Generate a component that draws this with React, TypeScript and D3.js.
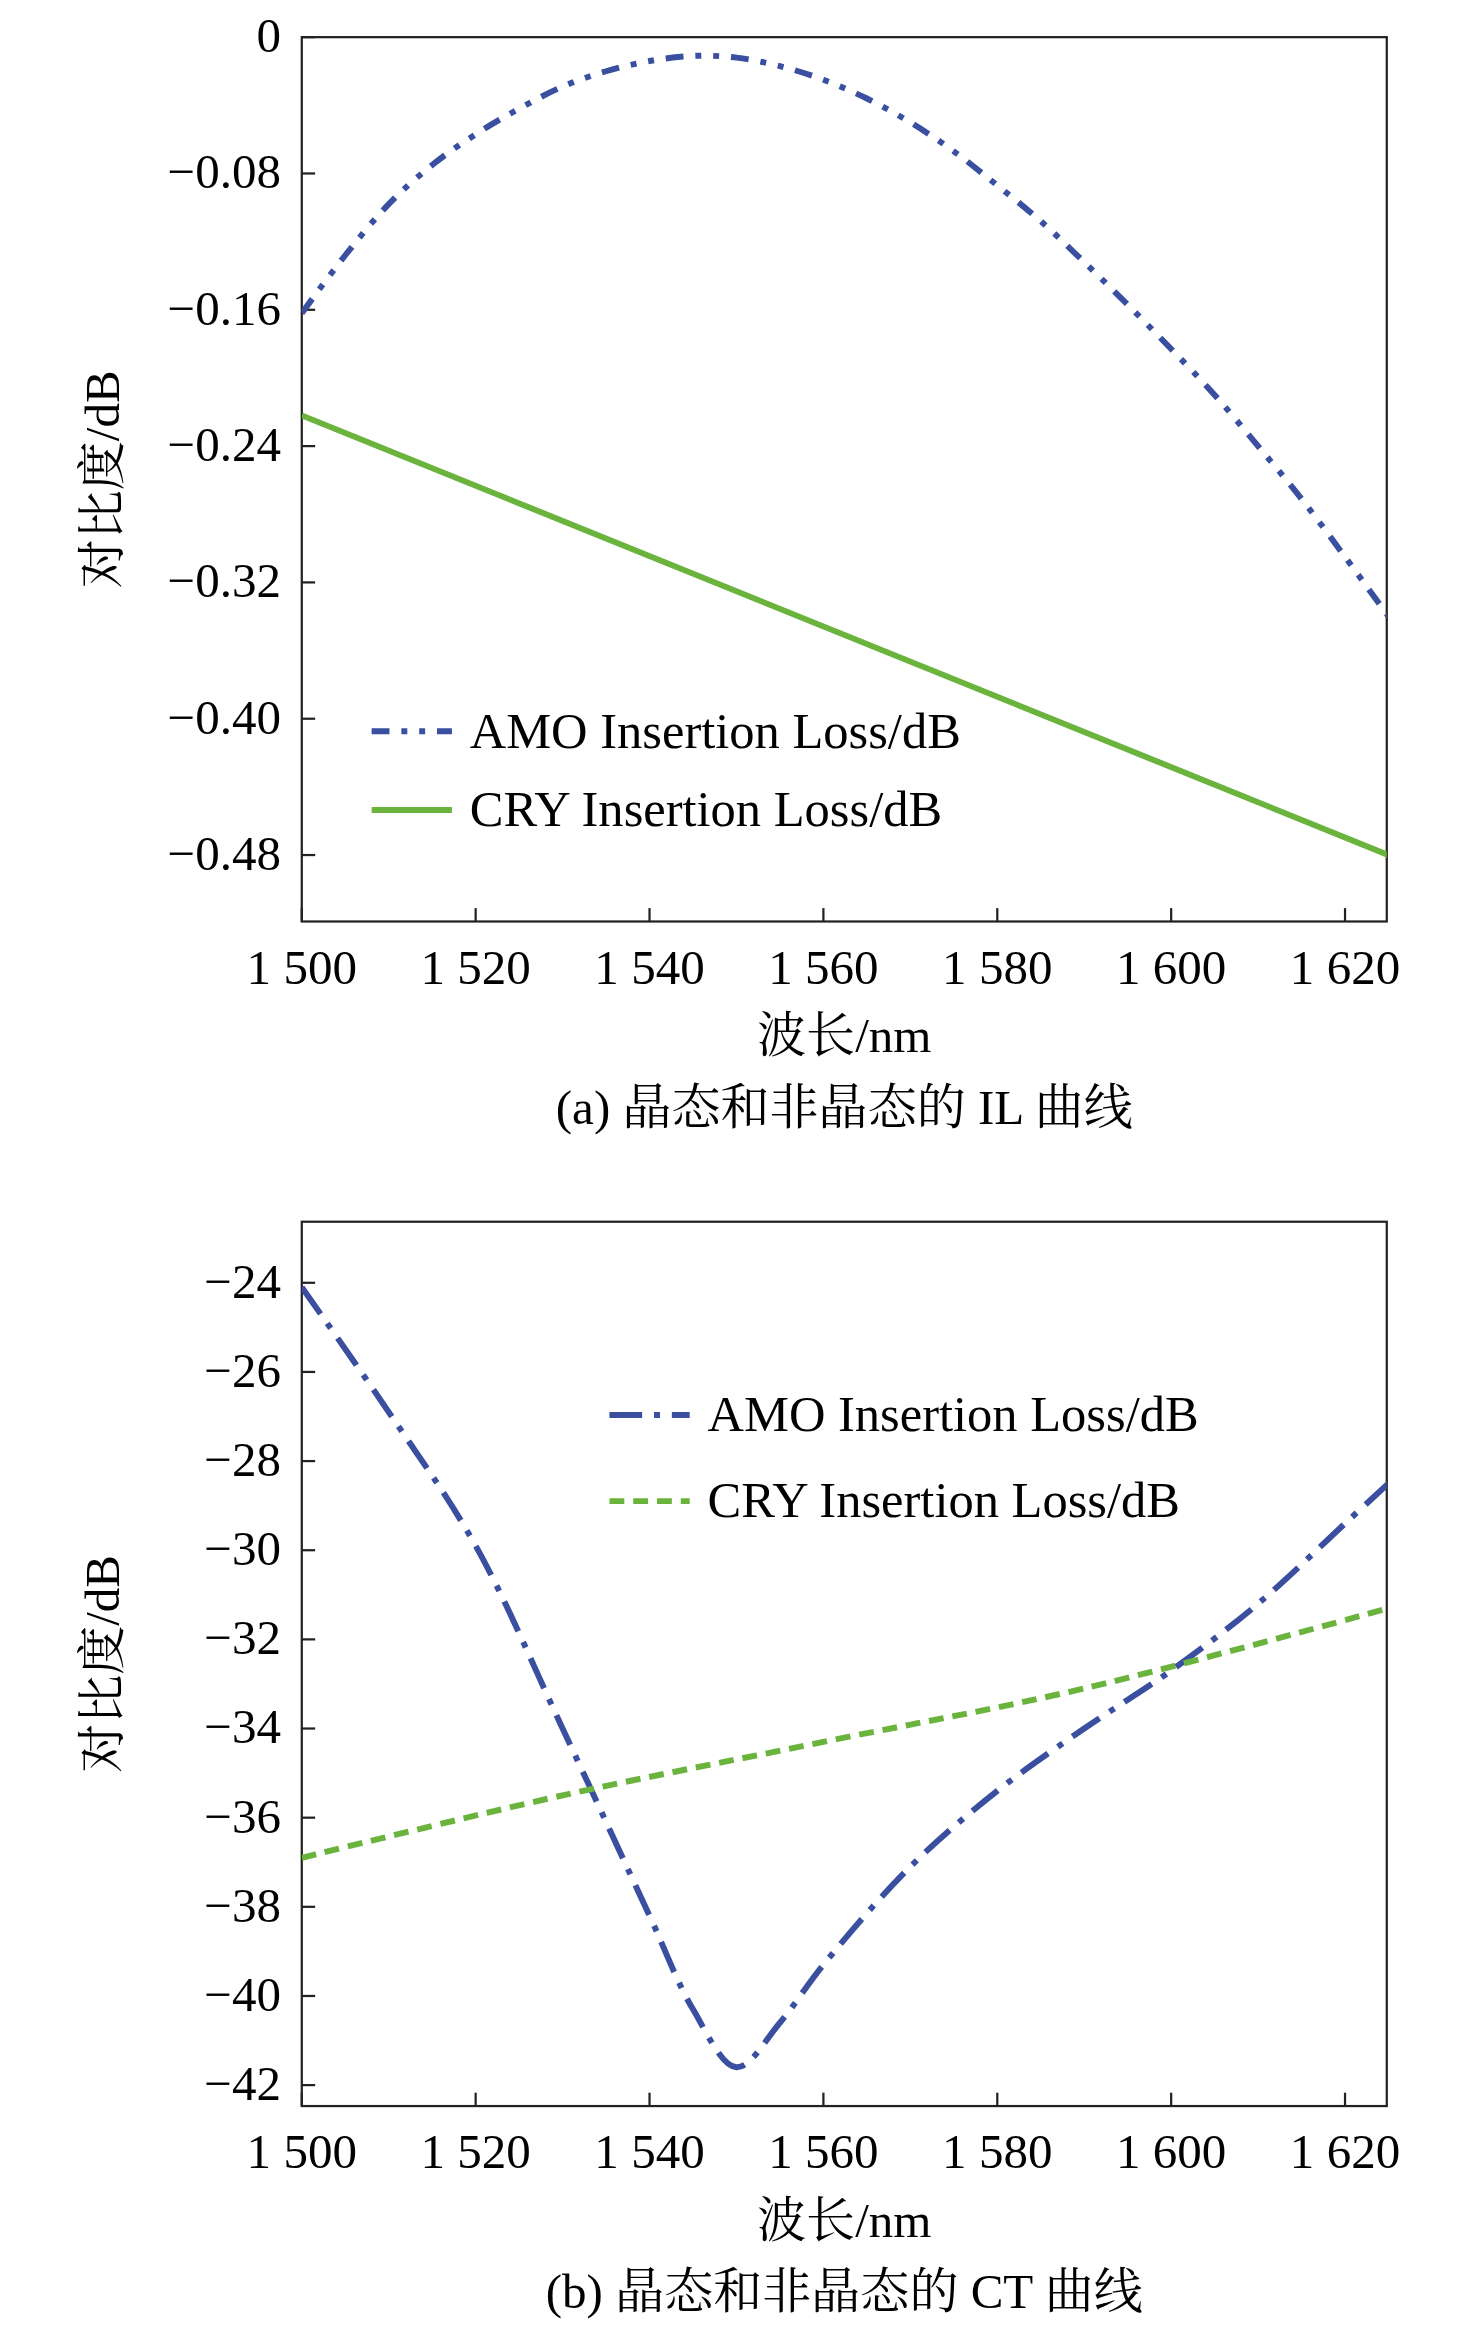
import React from 'react';
import * as d3 from 'd3';

const xTicks = [1500, 1520, 1540, 1560, 1580, 1600, 1620];
const yTicksA = [0, -0.08, -0.16, -0.24, -0.32, -0.4, -0.48];
const yTicksB = [-24, -26, -28, -30, -32, -34, -36, -38, -40, -42];

const amoIL: [number, number][] = [
  [1500, -0.162], [1505, -0.128], [1510, -0.098], [1515, -0.075], [1520, -0.057], [1525, -0.042],
  [1530, -0.029], [1535, -0.02], [1540, -0.014], [1545, -0.011], [1550, -0.012], [1555, -0.017],
  [1560, -0.025], [1565, -0.036], [1570, -0.05], [1575, -0.067], [1580, -0.087], [1585, -0.108],
  [1590, -0.132], [1595, -0.157], [1600, -0.183], [1605, -0.21], [1610, -0.24], [1615, -0.271],
  [1620, -0.305], [1625, -0.34],
];
const cryIL: [number, number][] = [[1500, -0.222], [1625, -0.48]];

const amoCT: [number, number][] = [
  [1500, -24.1], [1510, -26.9], [1520, -29.9], [1530, -34], [1540, -38.2], [1545, -40.3],
  [1550, -41.6], [1555, -40.6], [1560, -39.3], [1570, -37.1], [1580, -35.4], [1590, -34],
  [1600, -32.7], [1610, -31.2], [1620, -29.4], [1625, -28.5],
];
const cryCT: [number, number][] = [
  [1500, -36.9], [1530, -35.5], [1560, -34.3], [1590, -33.1], [1625, -31.3],
];

const blue = '#3a4fa0';
const green = '#6ab43e';
const serif = '"Liberation Serif", "Noto Serif CJK SC", "Noto Sans CJK SC", serif';

type Series = { data: [number, number][]; color: string; dash: string; label: string };

const Panel = ({ top, yDomain, yTicks, fmt, series, legendX, legendY, legendGap, caption }: {
  top: number; yDomain: [number, number]; yTicks: number[]; fmt: (v: number) => string;
  series: Series[]; legendX: number; legendY: number; legendGap: number; caption: string;
}) => {
  const left = 203, right = 933, h = 595;
  const x = d3.scaleLinear().domain([1500, 1624.8]).range([left, right]);
  const y = d3.scaleLinear().domain(yDomain).range([top, top + h]);
  const line = d3.line<[number, number]>().x(d => x(d[0])).y(d => y(d[1])).curve(d3.curveCatmullRom);
  return (
    <g fontFamily={serif}>
      <defs>
        <clipPath id={`c${top}`}><rect x={left} y={top} width={right - left} height={h} /></clipPath>
      </defs>
      <rect x={left} y={top} width={right - left} height={h} fill="none" stroke="#222" strokeWidth={1.5} />
      {xTicks.map(t => (
        <g key={t}>
          <line x1={x(t)} x2={x(t)} y1={top + h} y2={top + h - 9} stroke="#222" strokeWidth={1.5} />
          <text x={x(t)} y={top + h + 42} fontSize={33} textAnchor="middle">{`1 ${String(t).slice(1)}`}</text>
        </g>
      ))}
      {yTicks.map(t => (
        <g key={t}>
          <line x1={left} x2={left + 9} y1={y(t)} y2={y(t)} stroke="#222" strokeWidth={1.5} />
          <text x={left - 14} y={y(t) + 10} fontSize={33} textAnchor="end">{fmt(t)}</text>
        </g>
      ))}
      <g clipPath={`url(#c${top})`}>
        {series.map(s => (
          <path key={s.label + s.color} d={line(s.data) || ''} fill="none" stroke={s.color}
            strokeWidth={4} strokeDasharray={s.dash} />
        ))}
      </g>
      {series.map((s, i) => (
        <g key={i}>
          <line x1={legendX} x2={legendX + 54} y1={legendY + i * legendGap} y2={legendY + i * legendGap}
            stroke={s.color} strokeWidth={4} strokeDasharray={s.dash} />
          <text x={legendX + 66} y={legendY + i * legendGap + 11} fontSize={34}>{s.label}</text>
        </g>
      ))}
      <text transform={`translate(80,${top + h / 2}) rotate(-90)`} fontSize={33} textAnchor="middle">对比度/dB</text>
      <text x={568} y={top + h + 88} fontSize={33} textAnchor="middle">波长/nm</text>
      <text x={568} y={top + h + 136} fontSize={33} textAnchor="middle">{caption}</text>
    </g>
  );
};

const fmtA = (v: number) => (v === 0 ? '0' : '\u2212' + Math.abs(v).toFixed(2));
const fmtB = (v: number) => '\u2212' + Math.abs(v);

export default function App() {
  return (
    <svg width={1476} height={2329} viewBox="0 0 993 1567"
      style={{ position: 'absolute', left: 0, top: 0, background: '#fff' }}>
      <Panel top={25} yDomain={[0, -0.519]} yTicks={yTicksA} fmt={fmtA}
        series={[
          { data: amoIL, color: blue, dash: '12 8 4 8 4 8', label: 'AMO Insertion Loss/dB' },
          { data: cryIL, color: green, dash: '', label: 'CRY Insertion Loss/dB' },
        ]}
        legendX={250} legendY={492} legendGap={53} caption="(a) 晶态和非晶态的 IL 曲线" />
      <Panel top={822} yDomain={[-22.63, -42.47]} yTicks={yTicksB} fmt={fmtB}
        series={[
          { data: amoCT, color: blue, dash: '22 8 4 8', label: 'AMO Insertion Loss/dB' },
          { data: cryCT, color: green, dash: '10 6', label: 'CRY Insertion Loss/dB' },
        ]}
        legendX={410} legendY={952} legendGap={58} caption="(b) 晶态和非晶态的 CT 曲线" />
    </svg>
  );
}
